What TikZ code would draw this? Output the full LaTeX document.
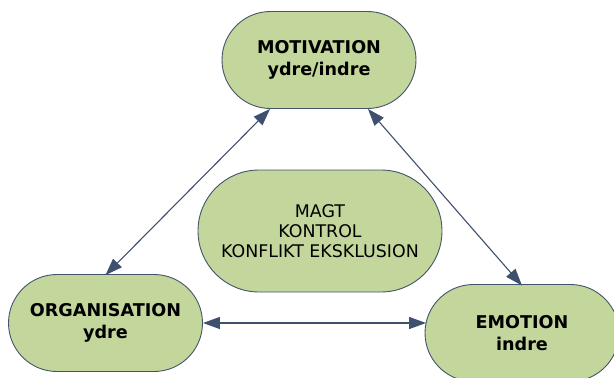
\documentclass[tikz,border=0pt]{standalone}
\usepackage{fontspec}
\setmainfont{DejaVu Sans}
\usetikzlibrary{arrows.meta}
\definecolor{boxfill}{HTML}{C3D69B}
\definecolor{boxline}{HTML}{44546A}
\definecolor{arrowcol}{HTML}{3F4F6E}
\begin{document}
\begin{tikzpicture}[x=1pt,y=-1pt,
  pill/.style={draw=boxline, fill=boxfill, line width=0.9pt, rounded corners=48.5pt,
    minimum width=194pt, minimum height=97pt, inner sep=0pt, align=center,
    font=\fontsize{17.6}{21.3}\selectfont\bfseries},
  bigpill/.style={pill, rounded corners=61pt, minimum width=244pt, minimum height=122pt,
    font=\fontsize{17.4}{20}\selectfont},
  link/.style={draw=arrowcol, line width=1.1pt,
    {Triangle[length=17pt,width=12pt]}-{Triangle[length=17pt,width=12pt]}}
]
\useasboundingbox (0,0) rectangle (614,378);
\node[pill] (mot) at (319,60) {MOTIVATION\\ydre/indre};
\node[pill] (org) at (105.5,323) {ORGANISATION\\ydre};
\node[pill] (emo) at (522,333) {EMOTION\\indre};
\node[bigpill] (mid) at (320,231) {MAGT\\KONTROL\\KONFLIKT EKSKLUSION};
\draw[link] ([yshift=-1pt]org.north) -- ([xshift=48.5pt]mot.south west);
\draw[link] ([xshift=-48.5pt]mot.south east) -- ([yshift=-1.5pt]emo.north);
\coordinate (hr) at ([xshift=1.5pt]org.east -| emo.west);
\draw[link] (org.east) -- (hr);
\end{tikzpicture}
\end{document}
